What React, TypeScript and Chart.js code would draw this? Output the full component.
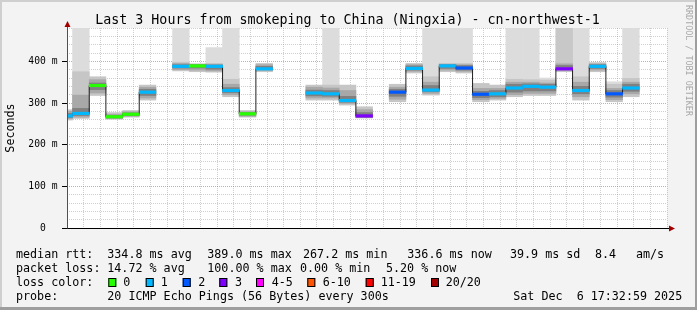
import React, { useEffect, useRef } from "react";
import { Chart, registerables } from "chart.js";

Chart.register(...registerables);

// ---------- data ----------
const intervalStarts = [
  "14:30", "14:35", "14:40", "14:45", "14:50", "14:55", "15:00", "15:05", "15:10", "15:15",
  "15:20", "15:25", "15:30", "15:35", "15:40", "15:45", "15:50", "15:55", "16:00", "16:05",
  "16:10", "16:15", "16:20", "16:25", "16:30", "16:35", "16:40", "16:45", "16:50", "16:55",
  "17:00", "17:05", "17:10", "17:15", "17:20",
];
const median = [269, 275, 342, 267, 273, 326, null, 388, 389, 388, 330, 274, 382, null, null, 324, 322, 306, 269, null, 326, 383, 331, 389, 384, 321, 322, 336, 340, 338, 382, 330, 388, 322, 336];
const lostPings = [1, 1, 0, 0, 0, 1, null, 1, 0, 1, 1, 0, 1, null, null, 1, 1, 1, 3, null, 2, 1, 1, 1, 2, 2, 1, 1, 1, 1, 3, 1, 1, 2, 1];
const smokeTop = [null, 480, null, null, null, null, null, 480, null, 433, 480, null, null, null, null, null, 480, null, null, null, null, null, 480, 480, 480, null, null, 480, 480, 360, 480, 480, null, 351, 480];
const smokeTopHeavy = [null, null, null, null, null, null, null, null, null, null, null, null, null, null, null, null, null, null, null, null, null, null, null, null, null, null, null, null, null, null, 480, null, null, null, null];
const outerLo = [259, 263, 318, 261, 266, 307, null, 377, 375, 374, 315, 266, 375, null, null, 307, 307, 295, 264, null, 303, 372, 319, 375, 372, 303, 307, 315, 318, 318, 375, 307, 375, 303, 315];
const outerHi = [284, 375, 363, 277, 282, 343, null, 398, 394, 395, 357, 282, 395, null, null, 343, 343, 343, 291, null, 345, 395, 363, 395, 395, 347, 343, 357, 356, 355, 397, 363, 397, 345, 359];
const midLo = [262, 266, 324, 263, 268, 312, null, 380, 379, 377, 320, 268, 378, null, null, 312, 312, 299, 265, null, 309, 376, 323, 379, 376, 308, 311, 320, 323, 323, 378, 315, 379, 308, 322];
const midHi = [280, 319, 356, 273, 279, 338, null, 395, 393, 393, 345, 279, 392, null, null, 338, 336, 330, 284, null, 338, 392, 350, 393, 392, 335, 335, 350, 350, 348, 394, 350, 394, 335, 350];
const coreLo = [265, 270, 332, 264, 270, 318, null, 384, 384, 381, 325, 271, 380, null, null, 317, 316, 302, 266, null, 316, 379, 327, 383, 379, 313, 315, 326, 329, 329, 380, 322, 383, 314, 328];
const coreHi = [275, 287, 348, 270, 276, 333, null, 392, 392, 391, 337, 277, 388, null, null, 331, 330, 316, 277, null, 333, 389, 342, 392, 390, 328, 330, 345, 346, 345, 390, 340, 392, 330, 345];

const STEP_MIN = 5;
const rangeStart = "14:33:20";
const rangeEnd = "17:33:20";
const xTickLabels = ["14:40", "15:00", "15:20", "15:40", "16:00", "16:20", "16:40", "17:00", "17:20"];
const yTickLabels = ["0  ", "100 m", "200 m", "300 m", "400 m"];
const yMax = 480;

const titleText = "Last 3 Hours from smokeping to China (Ningxia) - cn-northwest-1";
const yAxisTitle = "Seconds";
const watermark = "RRDTOOL / TOBI OETIKER";
const rttLegend = ["median rtt:", "334.8 ms avg", "389.0 ms max", "267.2 ms min", "336.6 ms now", "39.9 ms sd", "8.4", "am/s"];
const lossLegend = ["packet loss:", "14.72 % avg", "100.00 % max", "0.00 % min", "5.20 % now"];
const lossColorTitle = "loss color:";
const lossColorLabels = ["0", "1", "2", "3", "4-5", "6-10", "11-19", "20/20"];
const lossColors = ["#26ff00", "#00b8ff", "#0059ff", "#7e00ff", "#ff00ff", "#ff5500", "#ff0000", "#a10000"];
const probeLegend = ["probe:", "20 ICMP Echo Pings (56 Bytes) every 300s", "Sat Dec  6 17:32:59 2025"];

// ---------- helpers ----------
const toMin = (t: string) => {
  const p = t.split(":").map(Number);
  return p[0] * 60 + p[1] + (p[2] || 0) / 60;
};
const fmt = (m: number) => {
  const h = Math.floor(m / 60);
  const mm = Math.round(m - h * 60);
  return `${h}:${mm < 10 ? "0" : ""}${mm}`;
};
const lossBucket = (n: number) => (n <= 3 ? n : n <= 5 ? 4 : n <= 10 ? 5 : n <= 19 ? 6 : 7);

const centers = intervalStarts.map((t) => toMin(t) + STEP_MIN / 2);
const band = (lo: (number | null)[], hi: (number | null)[]) =>
  centers.map((x, i) => ({ x, y: lo[i] == null || hi[i] == null ? null : [lo[i], hi[i]] }));

const MONO = "'DejaVu Sans Mono', monospace";
const MAJOR = "rgba(222,81,81,0.55)";
const MINOR = "rgba(130,130,130,0.38)";

// ---------- layout of decorations ----------
const rowBase = [258.3, 272.1, 285.9, 299.7];
const rttX = [16, 107.3, 207.3, 303, 407.3, 510, 595, 636];
const lossX = [16, 107.3, 207.3, 300, 386];
const boxX = [108.3, 145.7, 182.7, 219.3, 256, 307.3, 365.7, 431];
const boxLabelX = [123.3, 160.7, 198.3, 235, 271.7, 322.7, 380.7, 445.7];
const probeX = [16, 107.3, 513.3];

const rrdPlugin = {
  id: "rrdDecor",
  beforeDraw(chart: any) {
    const { ctx, chartArea: a, width, height } = chart;
    ctx.save();
    ctx.fillStyle = "#f3f3f3";
    ctx.fillRect(0, 0, width, height);
    ctx.fillStyle = "#cfcfcf";
    ctx.fillRect(0, 0, width, 2);
    ctx.fillRect(0, 0, 2, height);
    ctx.fillStyle = "#9e9e9e";
    ctx.fillRect(0, height - 3, width, 3);
    ctx.fillRect(width - 2, 0, 2, height);
    ctx.fillStyle = "#ffffff";
    ctx.fillRect(a.left, a.top, a.right - a.left, a.bottom - a.top);
    ctx.restore();
  },
  afterDraw(chart: any) {
    const { ctx, chartArea: a } = chart;
    ctx.save();
    // axes
    ctx.lineWidth = 1;
    ctx.strokeStyle = "#000";
    ctx.beginPath();
    ctx.moveTo(a.left, a.bottom + 0.5);
    ctx.lineTo(a.right + 2, a.bottom + 0.5);
    ctx.stroke();
    ctx.strokeStyle = "#505050";
    ctx.beginPath();
    ctx.moveTo(a.left + 0.5, a.bottom + 0.5);
    ctx.lineTo(a.left + 0.5, a.top - 2);
    ctx.stroke();
    ctx.fillStyle = "#a00000";
    ctx.beginPath();
    ctx.moveTo(a.left - 2.5, a.top - 1);
    ctx.lineTo(a.left + 3.5, a.top - 1);
    ctx.lineTo(a.left + 0.5, a.top - 7);
    ctx.closePath();
    ctx.fill();
    ctx.beginPath();
    ctx.moveTo(a.right + 2, a.bottom - 2.5);
    ctx.lineTo(a.right + 2, a.bottom + 3.5);
    ctx.lineTo(a.right + 8, a.bottom + 0.5);
    ctx.closePath();
    ctx.fill();

    // title
    ctx.fillStyle = "#000";
    ctx.textBaseline = "alphabetic";
    ctx.textAlign = "center";
    ctx.font = `13.3px ${MONO}`;
    ctx.fillText(titleText, 347.5, 24);

    // y axis title
    ctx.save();
    ctx.translate(10.5, (a.top + a.bottom) / 2);
    ctx.rotate(-Math.PI / 2);
    ctx.textAlign = "center";
    ctx.textBaseline = "middle";
    ctx.font = `11.7px ${MONO}`;
    ctx.fillText(yAxisTitle, 0, 0);
    ctx.restore();

    // watermark
    ctx.save();
    ctx.translate(688.5, 5);
    ctx.rotate(Math.PI / 2);
    ctx.textAlign = "left";
    ctx.textBaseline = "middle";
    ctx.font = `8.4px ${MONO}`;
    ctx.fillStyle = "#a8a8a8";
    ctx.fillText(watermark, 0, 0);
    ctx.restore();

    // legend
    ctx.textAlign = "left";
    ctx.textBaseline = "alphabetic";
    ctx.font = `11.7px ${MONO}`;
    ctx.fillStyle = "#000";
    rttLegend.forEach((s, i) => ctx.fillText(s, rttX[i], rowBase[0]));
    lossLegend.forEach((s, i) => ctx.fillText(s, lossX[i], rowBase[1]));
    ctx.fillText(lossColorTitle, 16, rowBase[2]);
    lossColorLabels.forEach((s, i) => {
      ctx.fillStyle = lossColors[i];
      ctx.fillRect(boxX[i], 278, 8, 9);
      ctx.strokeStyle = "#000";
      ctx.strokeRect(boxX[i] + 0.5, 278.5, 7, 8);
      ctx.fillStyle = "#000";
      ctx.fillText(s, boxLabelX[i], rowBase[2]);
    });
    probeLegend.forEach((s, i) => ctx.fillText(s, probeX[i], rowBase[3]));
    ctx.restore();
  },
};

const barCommon = {
  type: "bar" as const,
  grouped: false,
  barPercentage: 1,
  categoryPercentage: 1,
  borderWidth: 0,
};

export default function App() {
  const ref = useRef<HTMLCanvasElement>(null);
  useEffect(() => {
    document.body.style.margin = "0";
    const canvas = ref.current!;
    const chart = new Chart(canvas, {
      type: "bar",
      data: {
        datasets: [
          {
            ...barCommon,
            label: "median",
            order: 0,
            data: centers.map((x, i) => ({ x, y: median[i] == null ? null : [median[i]! - 3, median[i]! + 3] })),
            backgroundColor: (c: any) => {
              const n = lostPings[c.dataIndex];
              return n == null ? "rgba(0,0,0,0)" : lossColors[lossBucket(n)];
            },
          } as any,
          {
            type: "line",
            label: "median step",
            order: 1,
            data: centers.map((x, i) => ({ x, y: median[i] })),
            stepped: "middle",
            borderColor: "#202020",
            borderWidth: 1,
            pointRadius: 0,
            fill: false,
            spanGaps: false,
          } as any,
          { ...barCommon, label: "core", order: 2, data: band(coreLo, coreHi), backgroundColor: "#808080" } as any,
          { ...barCommon, label: "mid", order: 3, data: band(midLo, midHi), backgroundColor: "#a8a8a8" } as any,
          { ...barCommon, label: "outer", order: 4, data: band(outerLo, outerHi), backgroundColor: "#c6c6c6" } as any,
          { ...barCommon, label: "heavy", order: 5, data: band(median, smokeTopHeavy), backgroundColor: "#c8c8c8" } as any,
          { ...barCommon, label: "top", order: 6, data: band(median, smokeTop), backgroundColor: "#dcdcdc" } as any,
        ],
      },
      options: {
        responsive: false,
        devicePixelRatio: 1,
        animation: false,
        events: [],
        layout: { padding: { left: 0, right: 30, top: 28, bottom: 0 } },
        plugins: { legend: { display: false }, tooltip: { enabled: false }, title: { display: false } },
        scales: {
          x: {
            type: "linear",
            min: toMin(rangeStart),
            max: toMin(rangeEnd),
            offset: false,
            z: 1,
            grid: {
              offset: false,
              drawTicks: false,
              color: (c: any) => (c.tick && xTickLabels.includes(fmt(c.tick.value)) ? MAJOR : MINOR),
            },
            border: { display: false, dash: [1, 1] },
            ticks: {
              stepSize: STEP_MIN,
              autoSkip: false,
              maxRotation: 0,
              includeBounds: false,
              maxTicksLimit: 1000,
              padding: 3.5,
              color: "#000",
              font: { family: MONO, size: 9.7 },
              callback: (v: any) => {
                const s = fmt(Number(v));
                return xTickLabels.includes(s) ? s : "";
              },
            },
            afterFit: (s: any) => {
              s.height = 82;
            },
          } as any,
          y: {
            type: "linear",
            min: 0,
            max: yMax,
            z: 1,
            grid: {
              drawTicks: true,
              tickLength: 5,
              color: (c: any) => (c.tick && c.tick.value % 100 === 0 ? MAJOR : MINOR),
              tickColor: (c: any) => (c.tick && c.tick.value % 100 === 0 ? "#000" : "rgba(0,0,0,0)"),
            },
            border: { display: false, dash: [1, 1] },
            ticks: {
              stepSize: 20,
              autoSkip: false,
              maxTicksLimit: 1000,
              padding: 4.5,
              color: "#000",
              font: { family: MONO, size: 9.7 },
              callback: (v: any) => {
                const n = Number(v);
                return n % 100 === 0 ? yTickLabels[n / 100] ?? "" : "";
              },
            },
            afterFit: (s: any) => {
              s.width = 67;
            },
          } as any,
        },
      },
      plugins: [rrdPlugin],
    } as any);
    return () => chart.destroy();
  }, []);
  return (
    <div style={{ position: "absolute", left: 0, top: 0, width: 697, height: 310 }}>
      <canvas ref={ref} width={697} height={310} style={{ display: "block", width: 697, height: 310 }} />
    </div>
  );
}
